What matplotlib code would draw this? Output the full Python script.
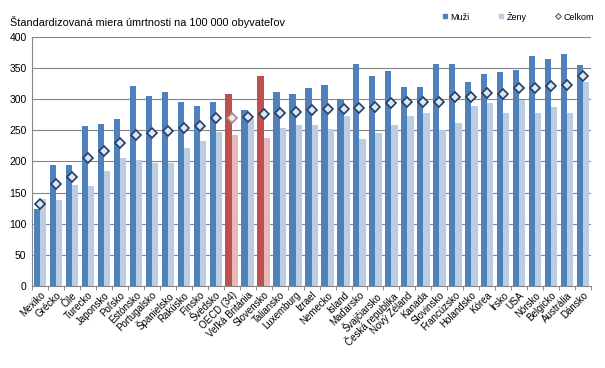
import matplotlib
matplotlib.use("Agg")
import matplotlib.pyplot as plt
from matplotlib.lines import Line2D
import numpy as np

plt.rcParams['font.family'] = ['Liberation Sans', 'DejaVu Sans']

categories = ["Mexiko", "Grécko", "Čile", "Turecko", "Japonsko", "Poľsko", "Estónsko",
              "Portugalsko", "Španielsko", "Rakúsko", "Fínsko", "Švédsko", "OECD (34)",
              "Veľká Británia", "Slovensko", "Taliansko", "Luxemburg", "Izrael", "Nemecko",
              "Island", "Maďarsko", "Švajčiarsko", "Česká republika", "Nový Zéland", "Kanada",
              "Slovinsko", "Francúzsko", "Holandsko", "Kórea", "Írsko", "USA", "Nórsko",
              "Belgicko", "Austrália", "Dánsko"]
muzi = [123, 194, 194, 257, 260, 268, 321, 305, 312, 295, 289, 296, 308,
        283, 337, 312, 308, 317, 323, 300, 356, 337, 345, 320, 320,
        357, 356, 328, 340, 343, 346, 369, 365, 373, 354]
zeny = [139, 138, 162, 161, 184, 205, 202, 197, 197, 221, 233, 247, 242,
        268, 238, 253, 258, 259, 252, 273, 236, 246, 259, 273, 277,
        250, 262, 289, 293, 278, 298, 277, 287, 278, 328]
celkom = [131, 163, 175, 205, 216, 229, 242, 245, 249, 253, 256, 270, 270,
          272, 276, 277, 280, 282, 284, 284, 285, 287, 294, 296, 296,
          296, 303, 304, 309, 308, 317, 317, 321, 322, 337]
highlight = ["OECD (34)", "Slovensko"]
highlight_total = ["OECD (34)"]
yticks = [0, 50, 100, 150, 200, 250, 300, 350, 400]
series_labels = ["Muži", "Ženy", "Celkom"]
title = "Štandardizovaná miera úmrtnosti na 100 000 obyvateľov"

fig = plt.figure(figsize=(6.05, 3.68), dpi=100)
ax = fig.add_axes([0.053, 0.223, 0.924, 0.677])

x = np.arange(len(categories))
hl = [c in highlight for c in categories]
hlt = [c in highlight_total for c in categories]
men_col = ['#C0504D' if h else '#4F81BD' for h in hl]
wom_col = ['#E6B9B8' if h else '#B9CDE5' for h in hl]
dia_face = ['#F8E4E3' if h else '#DCE6F2' for h in hlt]
dia_edge = ['#9A8C8C' if h else '#243F60' for h in hlt]

w = 0.39
ax.bar(x - w / 2, muzi, width=w, color=men_col, zorder=2)
ax.bar(x + w / 2, zeny, width=w, color=wom_col, zorder=2)
for xi, c, fc, ec in zip(x, celkom, dia_face, dia_edge):
    ax.plot([xi], [c], marker='D', markersize=5.6, markerfacecolor=fc,
            markeredgecolor=ec, markeredgewidth=1.2, linestyle='none', zorder=3)

ax.set_xlim(-0.5, len(categories) - 0.5)
ax.set_ylim(0, 400)
ax.set_yticks(yticks)
ax.yaxis.grid(True, color='#868686', linewidth=0.8, zorder=0)
ax.set_axisbelow(True)
ax.tick_params(axis='y', length=0, labelsize=7.5, pad=4)
ax.set_xticks(x)
ax.set_xticklabels(categories, rotation=45, ha='right', rotation_mode='anchor', fontsize=7)
ax.set_xticks(np.arange(-0.5, len(categories), 1), minor=True)
ax.tick_params(axis='x', which='major', length=0, pad=3)
ax.tick_params(axis='x', which='minor', length=3, color='#8B7B6B', direction='out')
for s in ['top', 'right']:
    ax.spines[s].set_visible(False)
ax.spines['left'].set_color('#868686')
ax.spines['bottom'].set_color('#868686')

fig.text(0.017, 0.94, title, fontsize=7.8, ha='left', va='center')
handles = [
    Line2D([], [], marker='s', markersize=3, color='#4F81BD', linestyle='none'),
    Line2D([], [], marker='s', markersize=3, color='#B9CDE5', linestyle='none'),
    Line2D([], [], marker='D', markersize=3, markerfacecolor='#DCE6F2',
           markeredgecolor='#243F60', markeredgewidth=0.6, linestyle='none'),
]
fig.legend(handles, series_labels, loc='center right', bbox_to_anchor=(0.995, 0.955),
           ncol=3, frameon=False, fontsize=6.5, handlelength=0.6,
           handletextpad=0.3, columnspacing=3.2)

fig.savefig("out.png", dpi=100)
